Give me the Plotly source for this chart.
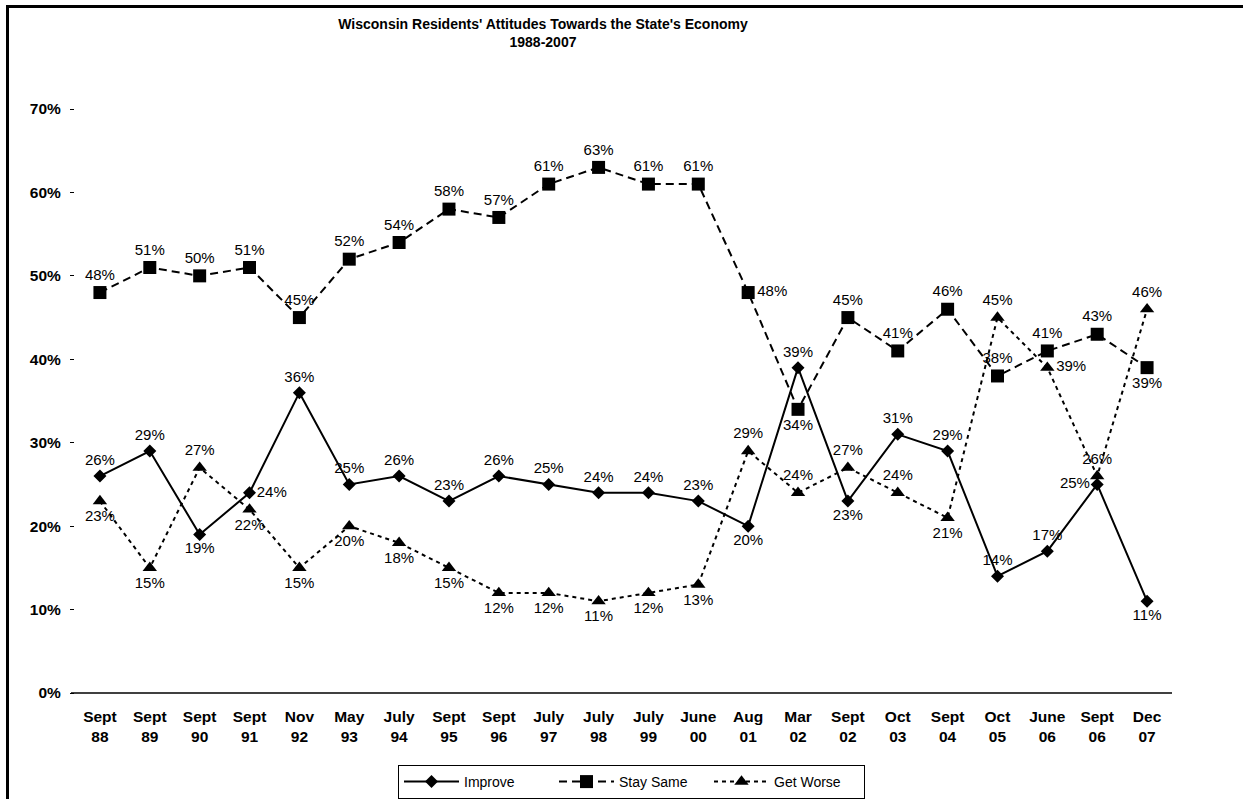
import plotly.graph_objects as go

categories = ["Sept<br>88", "Sept<br>89", "Sept<br>90", "Sept<br>91", "Nov<br>92", "May<br>93",
              "July<br>94", "Sept<br>95", "Sept<br>96", "July<br>97", "July<br>98", "July<br>99",
              "June<br>00", "Aug<br>01", "Mar<br>02", "Sept<br>02", "Oct<br>03", "Sept<br>04",
              "Oct<br>05", "June<br>06", "Sept<br>06", "Dec<br>07"]
improve = [26, 29, 19, 24, 36, 25, 26, 23, 26, 25, 24, 24, 23, 20, 39, 23, 31, 29, 14, 17, 25, 11]
stay_same = [48, 51, 50, 51, 45, 52, 54, 58, 57, 61, 63, 61, 61, 48, 34, 45, 41, 46, 38, 41, 43, 39]
get_worse = [23, 15, 27, 22, 15, 20, 18, 15, 12, 12, 11, 12, 13, 29, 24, 27, 24, 21, 45, 39, 26, 46]
y_ticks = [0, 10, 20, 30, 40, 50, 60, 70]

T, B, L, R = "top center", "bottom center", "middle left", "middle right"
improve_pos = [T, T, B, R, T, T, T, T, T, T, T, T, T, B, T, B, T, T, T, T, L, B]
stay_pos = [T, T, T, T, T, T, T, T, T, T, T, T, T, R, B, T, T, T, T, T, T, B]
worse_pos = [B, B, T, B, B, B, B, B, B, B, B, B, B, T, T, T, T, B, T, R, T, T]

FONT = "Arial, Liberation Sans, sans-serif"
x_idx = list(range(len(categories)))

fig = go.Figure()
fig.add_trace(go.Scatter(
    x=x_idx, y=improve, name="Improve", mode="lines+markers+text",
    line=dict(color="black", width=2, dash="solid"),
    marker=dict(symbol="diamond", size=10, color="black"),
    text=[f"{v}%" for v in improve], textposition=improve_pos,
    textfont=dict(family=FONT, size=15, color="black"), cliponaxis=False))
fig.add_trace(go.Scatter(
    x=x_idx, y=stay_same, name="Stay Same", mode="lines+markers+text",
    line=dict(color="black", width=2, dash="8px,5px"),
    marker=dict(symbol="square", size=13, color="black"),
    text=[f"{v}%" for v in stay_same], textposition=stay_pos,
    textfont=dict(family=FONT, size=15, color="black"), cliponaxis=False))
fig.add_trace(go.Scatter(
    x=x_idx, y=get_worse, name="Get Worse", mode="lines+markers+text",
    line=dict(color="black", width=2, dash="4px,4px"),
    marker=dict(symbol="triangle-up", size=12.5, color="black"),
    text=[f"{v}%" for v in get_worse], textposition=worse_pos,
    textfont=dict(family=FONT, size=15, color="black"), cliponaxis=False))

# pixel -> paper helpers (plot area x 75..1172, y 109..693)
def px(xp):
    return (xp - 75) / 1097.0

def py(yp):
    return (693 - yp) / 584.0

shapes = [
    dict(type="line", xref="paper", yref="paper", x0=px(6), x1=px(1260), y0=py(6.5), y1=py(6.5),
         line=dict(color="black", width=3)),
    dict(type="line", xref="paper", yref="paper", x0=px(7.5), x1=px(7.5), y0=py(5), y1=py(820),
         line=dict(color="black", width=3)),
    dict(type="line", xref="paper", yref="paper", x0=px(71), x1=1, y0=0, y1=0,
         line=dict(color="black", width=1.5)),
]

fig.update_layout(
    width=1243, height=799,
    margin=dict(l=75, r=71, t=109, b=106, autoexpand=False),
    paper_bgcolor="white", plot_bgcolor="white",
    font=dict(family=FONT, color="black"),
    title=dict(text="<b>Wisconsin Residents' Attitudes Towards the State's Economy<br>1988-2007</b>",
               x=543 / 1243, xanchor="center", y=1 - 29 / 799, yanchor="top", yref="container",
               font=dict(family=FONT, size=14, color="black")),
    showlegend=True,
    legend=dict(orientation="h", x=px(398), xanchor="left", y=py(765), yanchor="top",
                bordercolor="black", borderwidth=1, bgcolor="white",
                font=dict(family=FONT, size=14, color="black"),
                itemwidth=55, entrywidth=85, tracegroupgap=0),
    shapes=shapes,
)
fig.update_xaxes(range=[-0.5, 21.5], tickvals=x_idx, ticktext=[f"<b>{c}</b>" for c in categories],
                 showgrid=False, zeroline=False, showline=False, ticks="",
                 ticklabelstandoff=12, automargin=False,
                 tickfont=dict(family=FONT, size=15.5, color="black"))
fig.update_yaxes(range=[0, 70], tickvals=y_ticks,
                 ticktext=[f"<b>{v}%</b>" for v in y_ticks],
                 showgrid=False, zeroline=False, showline=False, ticks="outside", ticklen=4,
                 tickcolor="black", tickwidth=1, ticklabelstandoff=6, automargin=False,
                 tickfont=dict(family=FONT, size=15.5, color="black"))

fig.write_html("out.html", config={"displayModeBar": False},
               post_script="document.body.style.margin='0px';")
